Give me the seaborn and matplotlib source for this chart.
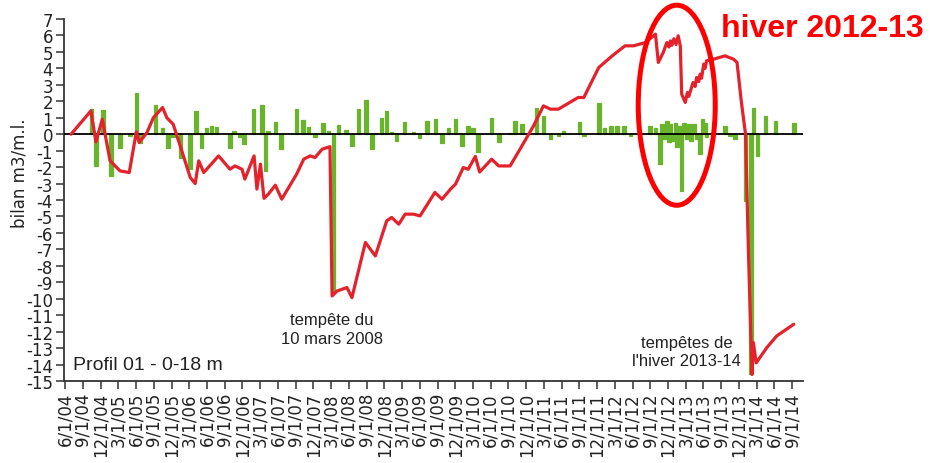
import numpy as np
import pandas as pd
import matplotlib
matplotlib.use('Agg')
import matplotlib.pyplot as plt
from matplotlib.patches import Ellipse
import seaborn as sns

# cumulative sediment balance (red line), dates as decimal years
line_t = [2004.50, 2004.78, 2004.85, 2004.94, 2005.05, 2005.19, 2005.32, 2005.42, 2005.46, 2005.57,
          2005.66, 2005.79, 2005.85, 2005.94, 2006.06, 2006.18, 2006.25, 2006.30, 2006.37, 2006.58,
          2006.74, 2006.81, 2006.91, 2006.95, 2007.08, 2007.12, 2007.17, 2007.22, 2007.28, 2007.38,
          2007.47, 2007.68, 2007.78, 2007.87, 2007.94, 2008.04, 2008.15, 2008.18, 2008.25, 2008.39,
          2008.46, 2008.65, 2008.79, 2008.95, 2009.02, 2009.12, 2009.21, 2009.33, 2009.42, 2009.63,
          2009.73, 2009.85, 2009.92, 2010.03, 2010.10, 2010.20, 2010.26, 2010.43, 2010.53, 2010.69,
          2010.83, 2011.02, 2011.16, 2011.26, 2011.37, 2011.65, 2011.73, 2011.94, 2012.13, 2012.31,
          2012.43, 2012.60, 2012.74, 2012.78, 2012.85, 2012.90, 2012.93, 2012.95, 2012.97, 2013.00,
          2013.03, 2013.06, 2013.09, 2013.11, 2013.16, 2013.19, 2013.21, 2013.27, 2013.30, 2013.32,
          2013.35, 2013.37, 2013.39, 2013.42, 2013.44, 2013.46, 2013.56, 2013.72, 2013.84, 2013.89,
          2013.95, 2014.01, 2014.05, 2014.10, 2014.12, 2014.16, 2014.31, 2014.45, 2014.69]
line_v = [0.0, 1.42, -0.47, 0.91, -1.62, -2.23, -2.33, 0.14, -0.5, 0.1,
          1.0, 1.62, 1.0, 0.6, -1.0, -2.63, -3.0, -1.62, -2.33, -1.32,
          -2.13, -1.93, -2.13, -2.73, -1.32, -3.34, -1.82, -3.9, -3.65, -3.1,
          -3.95, -2.43, -1.52, -1.32, -1.42, -0.91, -0.76, -9.83, -9.53, -9.32,
          -9.93, -6.58, -7.4, -5.27, -5.06, -5.47, -4.86, -4.86, -4.97, -3.54,
          -3.95, -3.34, -3.04, -2.03, -2.13, -1.35, -2.3, -1.52, -1.93, -1.93,
          -0.91, 0.5, 1.72, 1.52, 1.52, 2.23, 2.23, 4.05, 4.76, 5.37,
          5.37, 5.57, 6.08, 4.36, 4.97, 5.57, 5.3, 5.67, 5.4, 5.8,
          5.45, 5.98, 5.37, 2.43, 1.93, 2.53, 2.3, 3.14, 2.9, 3.45,
          3.2, 3.65, 3.4, 4.26, 4.0, 4.46, 4.56, 4.76, 4.56, 4.36,
          2.0, 0.0, -7.0, -14.6, -12.66, -13.9, -12.97, -12.26, -11.55]

# balance between two surveys (green bars)
bar_t = [2004.79, 2004.85, 2004.95, 2005.06, 2005.19, 2005.33, 2005.42, 2005.47, 2005.69, 2005.79,
         2005.87, 2005.94, 2006.04, 2006.18, 2006.26, 2006.34, 2006.41, 2006.48, 2006.55, 2006.74,
         2006.80, 2006.88, 2006.94, 2007.07, 2007.19, 2007.24, 2007.28, 2007.38, 2007.46, 2007.68,
         2007.77, 2007.85, 2007.94, 2008.05, 2008.13, 2008.20, 2008.27, 2008.38, 2008.46, 2008.55,
         2008.66, 2008.74, 2008.79, 2008.88, 2008.95, 2009.02, 2009.09, 2009.20, 2009.33, 2009.41,
         2009.52, 2009.64, 2009.73, 2009.82, 2009.92, 2010.01, 2010.10, 2010.17, 2010.24, 2010.43,
         2010.53, 2010.69, 2010.76, 2010.86, 2011.06, 2011.16, 2011.26, 2011.37, 2011.44, 2011.67,
         2011.73, 2011.94, 2012.02, 2012.11, 2012.20, 2012.30, 2012.39, 2012.66, 2012.74, 2012.80,
         2012.83, 2012.86, 2012.90, 2012.93, 2012.95, 2012.97, 2013.02, 2013.04, 2013.07, 2013.11,
         2013.14, 2013.18, 2013.21, 2013.24, 2013.28, 2013.32, 2013.37, 2013.40, 2013.44, 2013.46,
         2013.72, 2013.79, 2013.86, 2014.01, 2014.09, 2014.12, 2014.18, 2014.29, 2014.43, 2014.69]
bar_v = [1.52, -1.93, 1.48, -2.53, -0.81, -0.1, 2.53, -0.55, 1.76, 0.4,
         -0.81, -0.2, -1.42, -2.13, 1.42, -0.81, 0.35, 0.5, 0.45, -0.81,
         0.2, -0.2, -0.6, 1.52, 1.76, -2.23, 0.2, 0.75, -0.91, 1.56,
         0.87, 0.45, -0.2, 0.65, 0.2, -9.5, 0.55, 0.26, -0.71, 1.52,
         2.08, -0.91, 0.1, 1.01, 1.42, 0.14, -0.4, 0.71, 0.14, -0.26,
         0.81, 0.91, -0.51, 0.35, 0.91, -0.71, 0.5, 0.4, -1.1, 1.01,
         -0.5, 0.1, 0.81, 0.6, 1.62, 1.11, -0.3, -0.1, 0.2, 0.71,
         -0.1, 1.88, 0.4, 0.5, 0.5, 0.5, -0.1, 0.47, 0.4, -1.82,
         0.6, -0.3, 0.8, -0.5, 0.6, -0.4, 0.7, -0.8, 0.5, -3.44,
         0.65, -0.3, 0.6, -0.4, 0.6, -0.3, -1.2, 0.9, 0.7, -0.2,
         0.5, -0.1, -0.3, -4.05, -14.6, 1.62, -1.32, 1.11, 0.81, 0.67]

# quarterly tick labels 6/1/04 ... 9/1/14
tick_t = [2004 + 5 / 12 + 0.25 * k for k in range(42)]
tick_lab = [f"{(5 + 3 * k) % 12 + 1}/1/{(2004 + (5 + 3 * k) // 12) % 100:02d}" for k in range(42)]

line_df = pd.DataFrame({'t': line_t, 'bilan': line_v})
bar_df = pd.DataFrame({'t': bar_t, 'delta': bar_v})

sns.set_style('white')
plt.rcParams['font.family'] = ['DejaVu Sans']
plt.rcParams['axes.unicode_minus'] = False

fig = plt.figure(figsize=(9.3, 4.64), dpi=100)
ax = fig.add_axes([64 / 930, 82 / 464, 739 / 930, 362 / 464])

ax.bar(bar_df['t'], bar_df['delta'], width=0.05, color='#6ab42d',
       edgecolor='#6ab42d', linewidth=0.9, zorder=2)
ax.axhline(0, color='black', lw=1.3, zorder=3)
sns.lineplot(data=line_df, x='t', y='bilan', color='#e3222b', lw=2.3, estimator=None,
             sort=False, ax=ax, zorder=4)

ax.set_xlim(2004.40, 2004.40 + 739 / 70.92)
ax.set_ylim(-15, 7)
ax.set_yticks(range(-15, 8))
ax.set_xticks(tick_t)
ax.set_xticklabels(tick_lab, rotation=90, fontsize=12, color='#222222')
ax.tick_params(axis='y', labelsize=12, labelcolor='#222222', length=6, width=1.1,
               color='#333333', pad=2, left=True)
ax.tick_params(axis='x', length=6, width=1.1, color='#333333', pad=2, bottom=True)
ax.set_xlabel('')
ax.set_ylabel('')
for side in ['top', 'right']:
    ax.spines[side].set_visible(False)
for side in ['left', 'bottom']:
    ax.spines[side].set_color('#333333')
    ax.spines[side].set_linewidth(1.3)

fig.text(19 / 930, 1 - 173 / 464, 'bilan m3/m.l.', rotation=90, fontsize=12,
         ha='center', va='center', color='#222222')
ax.text(2004.53, -14.0, 'Profil 01 - 0-18 m', fontsize=14, family='Liberation Sans',
        ha='left', va='center', color='#222222')
ax.text(2008.18, -11.85, 'tempête du\n10 mars 2008', fontsize=12, family='Liberation Sans',
        ha='center', va='center', linespacing=1.3, color='#222222')
ax.text(2013.18, -13.2, "tempêtes de\nl'hiver 2013-14", fontsize=12, family='Liberation Sans',
        ha='center', va='center', linespacing=1.3, color='#222222')

ax.add_patch(Ellipse((2013.04, 1.76), 1.086, 12.16, fill=False, edgecolor='#ff0000',
                     lw=3.6, clip_on=False, zorder=5))
fig.text(822 / 930, 1 - 29 / 464, 'hiver 2012-13', fontsize=23, fontweight='bold',
         family='Liberation Sans', color='#ff0000', ha='center', va='center')

fig.savefig('out.png', dpi=100)
